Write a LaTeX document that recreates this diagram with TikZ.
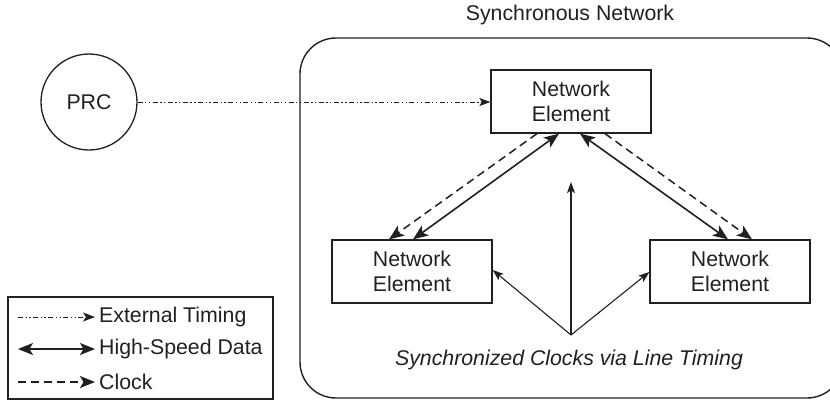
\documentclass[tikz,border=0pt]{standalone}
\usepackage{fontspec}
\setmainfont{Liberation Sans}
\usetikzlibrary{arrows.meta,calc}
\definecolor{ink}{HTML}{231F20}
\tikzset{
  every node/.style={text=ink},
  txt/.style={font=\fontsize{21.3}{25}\selectfont, inner sep=0pt},
  netbox/.style={draw=ink, line width=1.3pt, minimum width=160pt, minimum height=63pt, inner sep=0pt, align=center, txt},
  bigtip/.style={-{Stealth[length=15pt,width=12pt,inset=3.5pt]}},
  bothtip/.style={{Stealth[length=15pt,width=12pt,inset=3.5pt]}-{Stealth[length=15pt,width=12pt,inset=3.5pt]}},
  thintip/.style={-{Stealth[length=11pt,width=8pt,inset=2.5pt]}},
  ext/.style={draw=ink, line width=1pt, dash pattern=on 5pt off 2.5pt on 1.3pt off 2.5pt on 1.3pt off 2.5pt},
  clk/.style={draw=ink, line width=1.5pt, dash pattern=on 8pt off 5pt},
  dat/.style={draw=ink, line width=1.6pt},
  thin/.style={draw=ink, line width=1.1pt}
}
\begin{document}
\begin{tikzpicture}[x=1pt,y=-1pt]
\useasboundingbox (0,0) rectangle (830,400);
\clip (0,0) rectangle (830,400);
% synchronous network frame
\draw[ink, line width=1.4pt, rounded corners=36pt] (300,38) rectangle (843,398);
\node[txt] (title) at (570,15) {Synchronous Network};
% PRC
\node[draw=ink, circle, line width=1.3pt, minimum size=96pt, inner sep=0pt, txt] (prc) at (89,102) {PRC};
% network elements
\node[netbox] (ne1) at (571,101.5) {Network\\Element};
\node[netbox] (ne2) at (412,271.5) {Network\\Element};
\node[netbox] (ne3) at (730,271.5) {Network\\Element};
% external timing
\draw[ext, thintip] (prc.east) -- (prc.east -| ne1.west);
% left pair
\draw[clk, bigtip] ($(ne1.south)+(-34,0)$) -- ($(ne2.north)+(-23,0)$);
\draw[dat, bothtip] ($(ne1.south)+(-12,0)$) -- ($(ne2.north)+(1,0)$);
% right pair
\draw[dat, bothtip] ($(ne1.south)+(9,0)$) -- ($(ne3.north)+(-2,0)$);
\draw[clk, bigtip] ($(ne1.south)+(34,0)$) -- ($(ne3.north)+(22,0)$);
% synchronized clocks
\coordinate (hub) at (571,335);
\coordinate (up) at (571,182);
\draw[thin, thintip] (hub) -- (up);
\draw[thin, thintip] (hub) -- ($(ne2.east)+(0,-1.5)$);
\draw[thin, thintip] (hub) -- ($(ne3.west)+(0,0.5)$);
\node[txt, font=\fontsize{21.3}{25}\selectfont\itshape] (cap) at (569,360) {Synchronized Clocks via Line Timing};
% legend
\node[draw=ink, line width=1.3pt, minimum width=265pt, minimum height=102pt, inner sep=0pt] (leg) at (140.5,348) {};
\coordinate (l1a) at (18,317); \coordinate (l1b) at (95,317);
\coordinate (l2a) at (18,349); \coordinate (l2b) at (95,349);
\coordinate (l3a) at (18,382); \coordinate (l3b) at (95,382);
\draw[ext, line width=0.9pt, -{Stealth[length=12pt,width=9pt,inset=3pt]}] (l1a) -- (l1b);
\draw[dat, bothtip] (l2a) -- (l2b);
\draw[clk, bigtip] (l3a) -- (l3b);
\node[txt, anchor=west] (t1) at (99,317) {External Timing};
\node[txt, anchor=west] (t2) at (99,349) {High-Speed Data};
\node[txt, anchor=west] (t3) at (99,382) {Clock};
\end{tikzpicture}
\end{document}
